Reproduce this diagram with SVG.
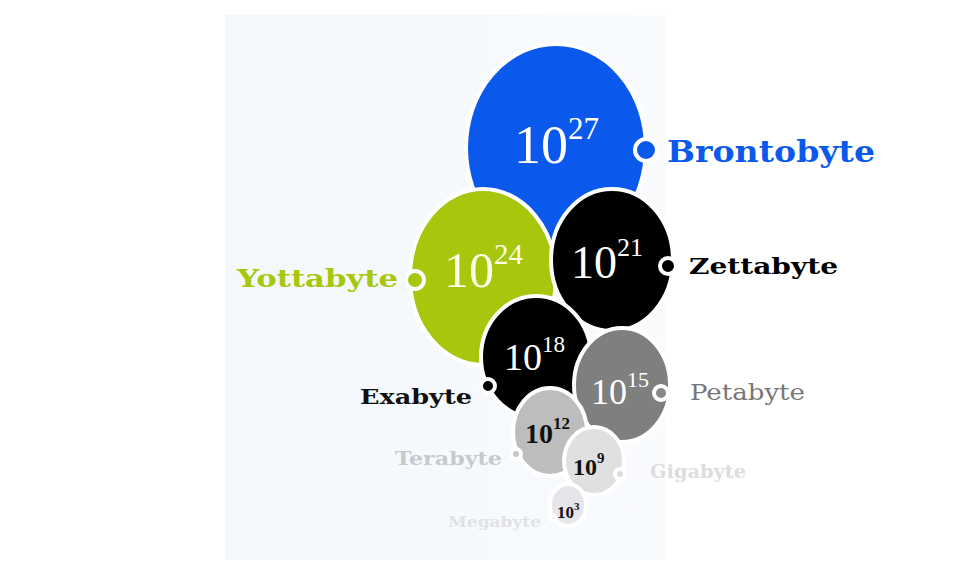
<svg xmlns="http://www.w3.org/2000/svg" width="957" height="576" viewBox="0 0 957 576">
<style>
.b{stroke:#fff;stroke-width:4}
.n{font-family:"Liberation Serif","Times New Roman",serif}
.nb{font-family:"Liberation Serif","Times New Roman",serif;font-weight:bold;fill:#111}
.l{font-family:"DejaVu Serif",serif;font-weight:bold}
.d{stroke:#fff;stroke-width:4}
</style>
<defs>
<linearGradient id="bg" x1="0" y1="0" x2="1" y2="0">
<stop offset="0" stop-color="#f4f8fc"/>
<stop offset="1" stop-color="#f9fbfd"/>
</linearGradient>
</defs>
<rect width="957" height="576" fill="#fff"/>
<rect x="225" y="15" width="440" height="545" fill="url(#bg)"/>
<g id="brontobyte">
<ellipse class="b" cx="556" cy="148" rx="90" ry="104" fill="#0b59ec"/>
<text class="n" x="514" y="163" font-size="54" fill="#fff">10<tspan dy="-24" font-size="31">27</tspan></text>
<text class="l" x="667" y="162" font-size="30" fill="#0b59ec" textLength="208" lengthAdjust="spacingAndGlyphs">Brontobyte</text>
</g>
<g id="yottabyte">
<ellipse class="b" cx="483" cy="277" rx="73" ry="88" fill="#a6c70c"/>
<text class="n" x="444" y="287" font-size="50" fill="#fffde8">10<tspan dy="-23" font-size="29">24</tspan></text>
<text class="l" x="237" y="287" font-size="25" fill="#a6c70c" textLength="161" lengthAdjust="spacingAndGlyphs">Yottabyte</text>
</g>
<g id="zettabyte">
<ellipse class="b" cx="612" cy="260" rx="61" ry="71" fill="#000"/>
<text class="n" x="571" y="278" font-size="46" fill="#fff">10<tspan dy="-22" font-size="26">21</tspan></text>
<text class="l" x="689" y="274" font-size="23" fill="#000" textLength="149" lengthAdjust="spacingAndGlyphs">Zettabyte</text>
</g>
<g id="exabyte">
<ellipse class="b" cx="536" cy="357" rx="55" ry="61" fill="#000"/>
<text class="n" x="504" y="370" font-size="38" fill="#fff">10<tspan dy="-18" font-size="23">18</tspan></text>
<text class="l" x="360" y="404" font-size="21" fill="#111" textLength="112" lengthAdjust="spacingAndGlyphs">Exabyte</text>
</g>
<g id="petabyte">
<ellipse class="b" cx="622" cy="385" rx="48" ry="57" fill="#7f7f7f"/>
<text class="n" x="591" y="404" font-size="36" fill="#fff">10<tspan dy="-17" font-size="22">15</tspan></text>
<text x="690" y="400" font-size="22" fill="#777" font-family="DejaVu Serif,serif" textLength="115" lengthAdjust="spacingAndGlyphs">Petabyte</text>
</g>
<g id="terabyte">
<ellipse class="b" cx="550" cy="432" rx="37" ry="44" fill="#bdbdbd"/>
<text class="nb" x="525" y="443" font-size="28">10<tspan dy="-14" font-size="17">12</tspan></text>
<text class="l" x="395" y="465" font-size="19" fill="#c6c9cd" textLength="107" lengthAdjust="spacingAndGlyphs">Terabyte</text>
</g>
<g id="gigabyte">
<ellipse class="b" cx="594" cy="461" rx="30" ry="34" fill="#e0e0e0"/>
<text class="nb" x="573" y="475" font-size="24">10<tspan dy="-12" font-size="15">9</tspan></text>
<text class="l" x="650" y="478" font-size="18" fill="#dcdde0" textLength="96" lengthAdjust="spacingAndGlyphs">Gigabyte</text>
</g>
<g id="megabyte">
<ellipse class="b" cx="568" cy="505" rx="18" ry="21" fill="#e6e6ea"/>
<text class="nb" x="557" y="518" font-size="17">10<tspan dy="-8" font-size="11">3</tspan></text>
<text class="l" x="448" y="527" font-size="15" fill="#e0e2e6" textLength="93" lengthAdjust="spacingAndGlyphs">Megabyte</text>
</g>
<g id="connectors">
<circle class="d" cx="646" cy="150" r="11" fill="#0b59ec"/>
<circle class="d" cx="415" cy="280" r="9" fill="#a6c70c"/>
<circle class="d" cx="668" cy="266" r="8" fill="#000"/>
<circle class="d" cx="488" cy="386" r="7" fill="#000"/>
<circle class="d" cx="661" cy="393" r="7" fill="#888"/>
<circle class="d" cx="516" cy="454" r="5" fill="#c8c8c8"/>
<circle class="d" cx="620" cy="474" r="5" fill="#dcdcdc"/>
<circle class="d" cx="553" cy="518" r="3" fill="#eaeaea"/>
</g>
</svg>
